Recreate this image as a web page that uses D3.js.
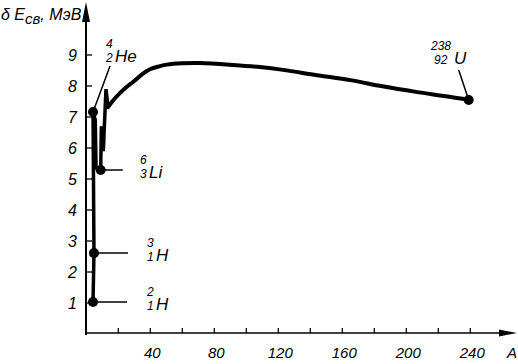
<!DOCTYPE html>
<html><head><meta charset="utf-8">
<script src="https://cdn.jsdelivr.net/npm/d3@7"></script>
<style>body{margin:0;background:#fff}svg{display:block}text{font-family:"Liberation Sans",Arial,sans-serif;font-style:italic;fill:#000}</style>
</head><body>
<script>
// Data (A = mass number, E = binding energy per nucleon, MeV)
const yTicks = [1,2,3,4,5,6,7,8,9];
const xTicks = [20,40,60,80,100,120,140,160,180,200,220,240];
const xTickLabels = [40,80,120,160,200,240];
const stemA = [4.2, 4.8, 4.2, 5.6, 6.1, 9.0, 9.4, 11.0, 10.6, 12.3, 13.6];
const stemE = [1.03, 2.61, 7.16, 6.9, 5.35, 5.29, 6.7, 6.3, 5.9, 7.9, 7.32];
const curveA = [13.6, 17, 21, 25, 29.2, 35.4, 39.8, 46, 50.4, 60, 71, 91.7, 108.6, 123, 144, 165, 185, 206, 226, 239];
const curveE = [7.32, 7.55, 7.77, 7.96, 8.13, 8.40, 8.54, 8.64, 8.69, 8.73, 8.74, 8.68, 8.61, 8.52, 8.35, 8.19, 7.99, 7.81, 7.66, 7.55];
const nuclides = ["2H","3H","4He","6Li","238U"];
const nucA = [4.2, 4.8, 4.2, 9.0, 239];
const nucE = [1.03, 2.61, 7.16, 5.29, 7.55];
const nucMass = ["2","3","4","6","238"];
const nucZ = ["1","1","2","3","92"];
const nucSym = ["H","H","He","Li","U"];

const W=518,H=364;
const svg=d3.select("body").append("svg").attr("width",W).attr("height",H);
const x=d3.scaleLinear().domain([0,240]).range([86.3,470.3]);
const y=d3.scaleLinear().domain([0,9]).range([334,55]);
const x0=86, yAxis=333;

// axes lines
svg.append("line").attr("x1",x0).attr("x2",x0).attr("y1",yAxis+2).attr("y2",12).attr("stroke","#000").attr("stroke-width",2);
svg.append("path").attr("d",`M${x0},2 L${x0-4},22 L${x0+4},22 Z`).attr("fill","#000");
svg.append("line").attr("x1",x0).attr("x2",506).attr("y1",yAxis).attr("y2",yAxis).attr("stroke","#000").attr("stroke-width",1.6);
svg.append("path").attr("d",`M517,${yAxis} L499,${yAxis-3.5} L499,${yAxis+3.5} Z`).attr("fill","#000");

// y ticks
const ga=svg.append("g");
ga.selectAll("line.yt").data(yTicks).join("line").attr("x1",x0).attr("x2",x0+6)
  .attr("y1",d=>y(d)).attr("y2",d=>y(d)).attr("stroke","#000").attr("stroke-width",1.3);
ga.selectAll("text.yl").data(yTicks).join("text").attr("x",77).attr("y",d=>y(d)+6)
  .attr("text-anchor","end").attr("font-size",16).text(d=>d);
// x ticks
ga.selectAll("line.xt").data(xTicks).join("line").attr("x1",d=>x(d)).attr("x2",d=>x(d))
  .attr("y1",yAxis).attr("y2",yAxis-5).attr("stroke","#000").attr("stroke-width",1.3);
ga.selectAll("text.xl").data(xTickLabels).join("text").attr("x",d=>x(d)+2).attr("y",358)
  .attr("text-anchor","middle").attr("font-size",15).text(d=>d);
svg.append("text").attr("x",512).attr("y",358).attr("text-anchor","middle").attr("font-size",15).text("A");

// y title
const t=svg.append("text").attr("x",1).attr("y",20).attr("font-size",16);
t.append("tspan").text("δ E");
t.append("tspan").attr("dy",4).attr("font-size",15).text("св");
t.append("tspan").attr("dy",-4).text(", МэВ");

// curves
const stem=stemA.map((a,i)=>[a,stemE[i]]);
const main=curveA.map((a,i)=>[a,curveE[i]]);
svg.append("path").attr("d",d3.line().x(d=>x(d[0])).y(d=>y(d[1]))(stem))
  .attr("fill","none").attr("stroke","#000").attr("stroke-width",3.5).attr("stroke-linejoin","miter");
svg.append("path").attr("d",d3.line().curve(d3.curveCatmullRom).x(d=>x(d[0])).y(d=>y(d[1]))(main))
  .attr("fill","none").attr("stroke","#000").attr("stroke-width",4).attr("stroke-linecap","round");

// nuclide dots and labels (offsets are layout only)
const leadDx=[34,34,17,22,-10];
const leadDy=[0,0,-46,0,-30];
const textX=[147,147,106,140,431];
const textDy=[0,0,-58,0,-44];
nuclides.forEach((n,i)=>{
  const cx=x(nucA[i]), cy=y(nucE[i]);
  svg.append("line").attr("x1",cx).attr("y1",cy).attr("x2",cx+leadDx[i]).attr("y2",cy+leadDy[i])
    .attr("stroke","#000").attr("stroke-width",1.5);
  svg.append("circle").attr("cx",cx).attr("cy",cy).attr("r",5).attr("fill","#000");
  const by=cy+textDy[i];
  const mw=nucMass[i].length*7;
  svg.append("text").attr("x",textX[i]).attr("y",by-6).attr("font-size",12).text(nucMass[i]);
  svg.append("text").attr("x",textX[i]+(nucZ[i].length<nucMass[i].length?3:0)).attr("y",by+8).attr("font-size",12).text(nucZ[i]);
  svg.append("text").attr("x",textX[i]+mw+2).attr("y",by+8).attr("font-size",17).text(nucSym[i]);
});
</script>
</body></html>
